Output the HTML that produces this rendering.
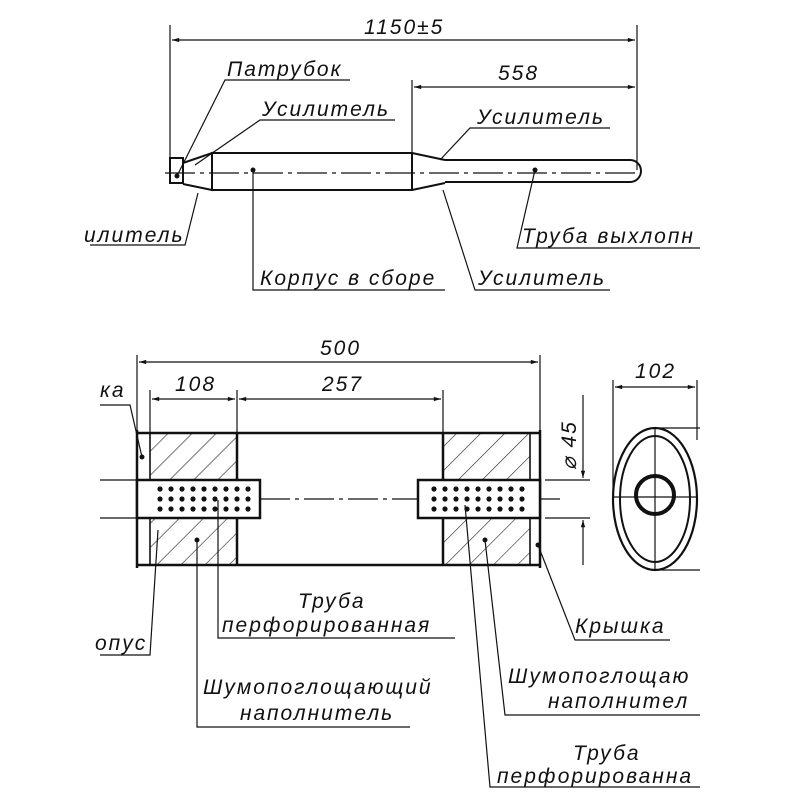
<!DOCTYPE html>
<html><head><style>body{margin:0;background:#fff;overflow:hidden}svg{display:block}
text{font-family:"Liberation Sans",sans-serif;font-style:italic;font-size:21px;letter-spacing:2px;fill:#111}</style></head>
<body>
<svg width="800" height="800" viewBox="0 0 800 800" xmlns="http://www.w3.org/2000/svg">
<defs>
<pattern id="h" width="17" height="17" patternUnits="userSpaceOnUse" patternTransform="rotate(45)">
<line x1="0" y1="0" x2="0" y2="17" stroke="#222" stroke-width="1.2"/></pattern>
<marker id="a" viewBox="0 0 10 10" refX="10" refY="5" markerWidth="10" markerHeight="6" orient="auto-start-reverse"><path d="M0,2 L10,5 L0,8z" fill="#111"/></marker>
</defs>
<g stroke="#111" fill="none" stroke-width="1.2">
<line x1="170" y1="25" x2="170" y2="160"/><line x1="637" y1="25" x2="637" y2="170"/>
<line x1="172" y1="40" x2="635" y2="40" marker-start="url(#a)" marker-end="url(#a)"/>
<line x1="412" y1="80" x2="412" y2="155"/>
<line x1="414" y1="87" x2="635" y2="87" marker-start="url(#a)" marker-end="url(#a)"/>
<g stroke-width="2">
<rect x="170" y="158" width="13" height="25"/>
<path d="M183,163 L212,153 L212,190 L183,184"/>
<rect x="212" y="153" width="200" height="37"/>
<path d="M412,153 L445,160 M412,190 L445,183"/>
<path d="M445,160 L630,160 A11,11 0 0 1 630,182 L445,182"/>
</g>
<line x1="165" y1="173" x2="640" y2="173" stroke-dasharray="30,5,4,5"/>
<path d="M177,176 L225,80 L350,80"/>
<path d="M195,165 L260,120 L395,120"/>
<path d="M440,160 L470,128 L610,128"/>
<path d="M198,193 L185,245 L90,245"/>
<path d="M253,170 L253,290 L445,290"/>
<path d="M443,190 L475,290 L610,290"/>
<path d="M535,170 L517,248 L700,248"/>
<line x1="137" y1="355" x2="137" y2="433"/><line x1="540" y1="355" x2="540" y2="433"/>
<line x1="139" y1="362" x2="538" y2="362" marker-start="url(#a)" marker-end="url(#a)"/>
<line x1="150" y1="390" x2="150" y2="433"/><line x1="237" y1="390" x2="237" y2="433"/><line x1="443" y1="390" x2="443" y2="433"/>
<line x1="152" y1="399" x2="235" y2="399" marker-start="url(#a)" marker-end="url(#a)"/>
<line x1="239" y1="399" x2="441" y2="399" marker-start="url(#a)" marker-end="url(#a)"/>
<line x1="545" y1="480" x2="590" y2="480"/><line x1="545" y1="518" x2="590" y2="518"/>
<line x1="583" y1="395" x2="583" y2="478" marker-end="url(#a)"/>
<line x1="583" y1="565" x2="583" y2="520" marker-end="url(#a)"/>
<line x1="100" y1="480" x2="137" y2="480"/><line x1="100" y1="518" x2="137" y2="518"/>
<rect x="150" y="433" width="87" height="47" fill="url(#h)"/>
<rect x="150" y="518" width="87" height="47" fill="url(#h)"/>
<rect x="443" y="433" width="87" height="47" fill="url(#h)"/>
<rect x="443" y="518" width="87" height="47" fill="url(#h)"/>
<g stroke-width="2.5">
<line x1="137" y1="433" x2="540" y2="433"/><line x1="137" y1="565" x2="540" y2="565"/>
<line x1="137" y1="430" x2="137" y2="568"/><line x1="540" y1="430" x2="540" y2="568"/>
<line x1="237" y1="433" x2="237" y2="565"/><line x1="443" y1="433" x2="443" y2="565"/>
<line x1="150" y1="433" x2="150" y2="565" stroke-width="1.5"/><line x1="530" y1="433" x2="530" y2="565" stroke-width="1.5"/>
<rect x="137" y="480" width="123" height="38" fill="#fff"/>
<rect x="418" y="480" width="122" height="38" fill="#fff"/>
</g>
<line x1="260" y1="499" x2="418" y2="499" stroke-dasharray="30,5,4,5"/>
<line x1="540" y1="499" x2="560" y2="499"/>
<line x1="613" y1="380" x2="613" y2="495"/><line x1="697" y1="380" x2="697" y2="440"/>
<line x1="615" y1="387" x2="695" y2="387" marker-start="url(#a)" marker-end="url(#a)"/>
<line x1="655" y1="428" x2="700" y2="428"/><line x1="655" y1="570" x2="700" y2="570"/>
<ellipse cx="655" cy="499" rx="42" ry="71" stroke-width="2.2"/>
<ellipse cx="655" cy="499" rx="35" ry="63" stroke-width="2"/>
<circle cx="655" cy="495" r="19" stroke-width="4"/>
<line x1="655" y1="428" x2="655" y2="570"/><line x1="613" y1="497" x2="697" y2="497"/>
<path d="M142,457 L130,405 L100,405"/>
<path d="M158,530 L150,655 L100,655"/>
<path d="M218,500 L218,638 L455,638"/>
<path d="M197,540 L197,727 L410,727"/>
<path d="M538,545 L575,640 L670,640"/>
<path d="M485,540 L505,715 L700,715"/>
<path d="M465,505 L490,787 L700,787"/>
</g>
<g fill="#111">
<g id="d1"><circle cx="160" cy="489" r="2.6"/><circle cx="160" cy="499" r="2.6"/><circle cx="160" cy="509" r="2.6"/></g>
<use href="#d1" x="11"/><use href="#d1" x="22"/><use href="#d1" x="33"/><use href="#d1" x="44"/><use href="#d1" x="55"/><use href="#d1" x="66"/><use href="#d1" x="77"/><use href="#d1" x="88"/>
<use href="#d1" x="274"/><use href="#d1" x="285"/><use href="#d1" x="296"/><use href="#d1" x="307"/><use href="#d1" x="318"/><use href="#d1" x="329"/><use href="#d1" x="340"/><use href="#d1" x="351"/><use href="#d1" x="362"/>
<circle cx="177" cy="176" r="2.5"/><circle cx="253" cy="170" r="2.5"/><circle cx="535" cy="170" r="2.5"/>
<circle cx="142" cy="457" r="2.5"/><circle cx="197" cy="540" r="2.5"/><circle cx="485" cy="540" r="2.5"/><circle cx="538" cy="545" r="2.5"/>
</g>
<text x="364" y="34">1150±5</text>
<text x="498" y="80">558</text>
<text x="227" y="76">Патрубок</text>
<text x="262" y="116">Усилитель</text>
<text x="477" y="124">Усилитель</text>
<text x="84" y="242">илитель</text>
<text x="260" y="285">Корпус в сборе</text>
<text x="478" y="285">Усилитель</text>
<text x="522" y="243">Труба выхлопн</text>
<text x="320" y="355">500</text>
<text x="175" y="391">108</text>
<text x="322" y="391">257</text>
<text x="635" y="378">102</text>
<text x="100" y="397">ка</text>
<text x="95" y="650">опус</text>
<text x="298" y="608">Труба</text>
<text x="222" y="632">перфорированная</text>
<text x="575" y="633">Крышка</text>
<text x="203" y="694">Шумопоглощающий</text>
<text x="240" y="720">наполнитель</text>
<text x="508" y="683">Шумопоглощаю</text>
<text x="548" y="708">наполнител</text>
<text x="573" y="760">Труба</text>
<text x="497" y="783">перфорированна</text>
<text x="0" y="0" transform="translate(576,470) rotate(-90)">⌀ 45</text>
</svg>
</body></html>
